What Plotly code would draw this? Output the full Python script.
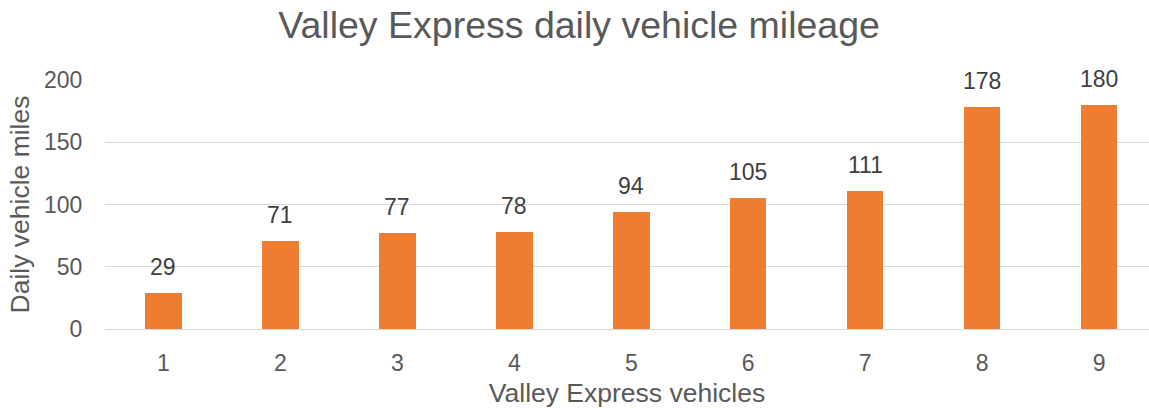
import plotly.graph_objects as go

vehicles = [1, 2, 3, 4, 5, 6, 7, 8, 9]
miles = [29, 71, 77, 78, 94, 105, 111, 178, 180]
y_ticks = [0, 50, 100, 150, 200]

FONT = "Arial"

fig = go.Figure()
fig.add_trace(go.Bar(
    x=vehicles, y=miles, width=0.312,
    marker=dict(color="#ED7D31", line=dict(width=0)),
    hoverinfo="x+y",
))

annotations = [
    dict(x=v, y=m, text=str(m), showarrow=False, yanchor="bottom", yshift=11,
         font=dict(family=FONT, size=23, color="#404040"))
    for v, m in zip(vehicles, miles)
]

fig.update_layout(
    width=1149, height=408,
    margin=dict(l=104.5, r=0, t=80, b=79, autoexpand=False),
    paper_bgcolor="white", plot_bgcolor="white",
    font=dict(family=FONT, color="#595959"),
    title=dict(text="Valley Express daily vehicle mileage", x=0.504, xanchor="center",
               y=0.939, yanchor="middle",
               font=dict(family=FONT, size=37.5, color="#595959")),
    showlegend=False,
    annotations=annotations,
    bargap=0,
)
fig.update_xaxes(
    range=[0.5, 9.427], tickvals=vehicles, ticktext=[str(v) for v in vehicles],
    showgrid=False, zeroline=False, showline=False,
    tickfont=dict(family=FONT, size=23, color="#595959"),
    ticks="outside", ticklen=13, tickcolor="rgba(0,0,0,0)",
    title=dict(text="Valley Express vehicles", standoff=16,
               font=dict(family=FONT, size=26.5, color="#595959")),
)
fig.update_yaxes(
    range=[0, 200], tickvals=y_ticks,
    showgrid=True, gridcolor="#D9D9D9", gridwidth=1.3,
    zeroline=True, zerolinecolor="#D9D9D9", zerolinewidth=1.3,
    showline=False,
    tickfont=dict(family=FONT, size=23, color="#595959"),
    ticks="outside", ticklen=17, tickcolor="rgba(0,0,0,0)",
    title=dict(text="Daily vehicle miles", standoff=6,
               font=dict(family=FONT, size=26.5, color="#595959")),
)

fig.write_html("out.html",
               config={"displayModeBar": False},
               post_script="document.body.style.margin='0';document.body.style.overflow='hidden';")
